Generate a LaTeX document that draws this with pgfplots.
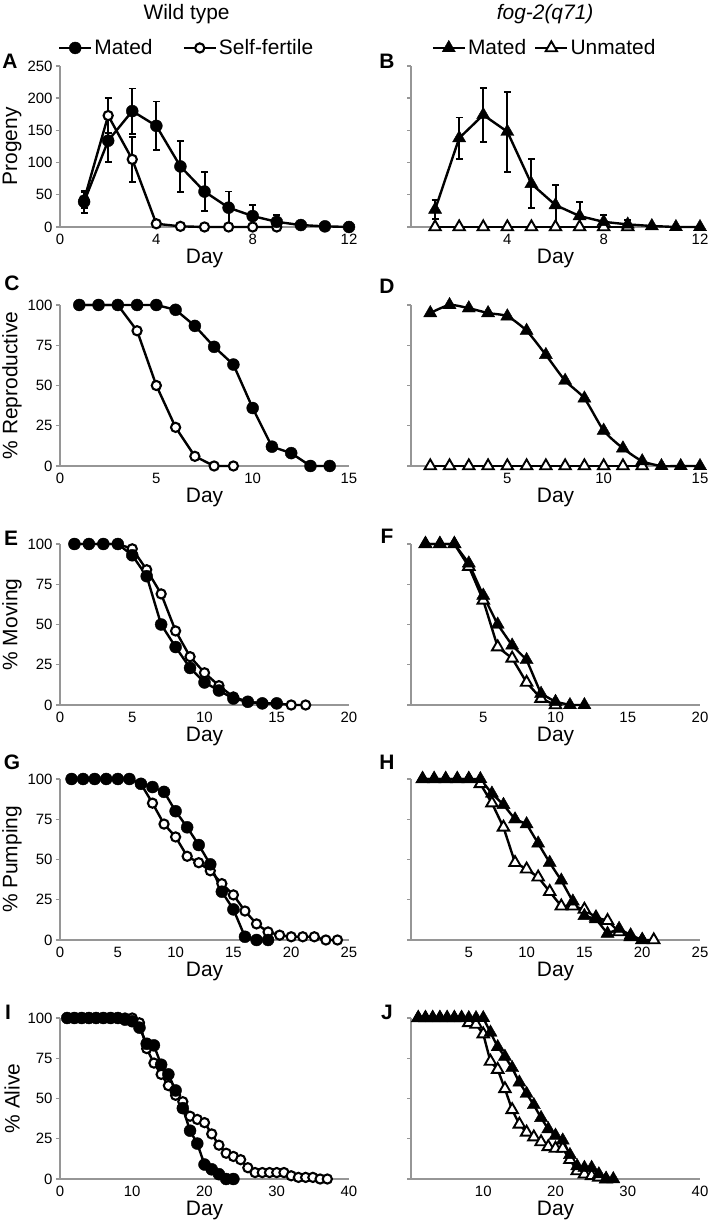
\documentclass[border=0pt]{standalone}
\usepackage{fontspec}
\setmainfont{Liberation Sans}
\usepackage{pgfplots}
\pgfplotsset{compat=1.18}
\definecolor{axgray}{RGB}{150,150,150}

\tikzset{
  matedC/.style={black, line width=2.4bp, mark=*, mark size=6bp,
    mark options={solid, fill=black, draw=black, line width=0.4bp}},
  selfC/.style={black, line width=2.4bp, mark=*, mark size=4.6bp,
    mark options={solid, fill=white, draw=black, line width=2.1bp}},
  matedT/.style={black, line width=2.4bp, mark=triangle*, mark size=7.6bp,
    mark options={solid, fill=black, draw=black, line width=0.4bp}},
  unmT/.style={black, line width=2.4bp, mark=triangle*, mark size=6.6bp,
    mark options={solid, fill=white, draw=black, line width=1.9bp}},
}

\pgfplotsset{
  panel/.style={
    scale only axis, width=289bp, height=161bp,
    anchor=south west,
    axis lines=left,
    axis line style={draw=axgray, line width=2bp, -},
    ytick style={draw=axgray, line width=1.4bp},
    xtick style={draw=none},
    tick align=outside,
    major tick length=4bp,
    ymin=0, ymax=100, ytick={0,25,50,75,100},
    clip=false,
    xlabel={Day},
    /pgf/number format/assume math mode=true,
    tick label style={font=\fontsize{15}{17}\selectfont},
    label style={font=\fontsize{21}{24}\selectfont},
    xlabel style={at={(axis description cs:0.5,0)}, anchor=north, yshift=-19bp},
    ylabel style={at={(axis description cs:-0.166,0.5)}, anchor=center},
  },
  rightp/.style={panel, yticklabels={}},
  ebars/.style={error bars/.cd, y dir=both, y explicit,
    error bar style={black, line width=2bp},
    error mark options={black, line width=1.8bp, mark size=3.5bp, rotate=90}},
  leg/.style={
    legend style={draw=none, fill=none, font=\fontsize{21}{24}\selectfont,
      inner sep=0pt, nodes={inner sep=2bp}, anchor=center},
    legend columns=-1,
    legend image code/.code={\draw[mark repeat=2,mark phase=2]
      plot coordinates {(0bp,0bp)(16bp,0bp)(32bp,0bp)};},
  },
}

\begin{document}
\begin{tikzpicture}
\useasboundingbox (0,0) rectangle (714bp,1224bp);

% ---------- A ----------
\begin{axis}[panel, at={(60bp,997bp)}, xmin=0, xmax=12, xtick={0,4,8,12},
  ymax=250, ytick={0,50,100,150,200,250}, ylabel={Progeny},
  leg, legend style={at={(axis description cs:0.438,1.112)},
    /tikz/every even column/.append style={column sep=28bp}}]
\addlegendimage{matedC}\addlegendentry{Mated}
\addlegendimage{selfC}\addlegendentry{Self-fertile}
\addplot[selfC, forget plot, ebars] table[x=x, y=y, y error=e] {
x y e
1 42 12
2 173 27
3 105 35
4 5 0
5 1 0
6 0 0
7 0 0
8 0 0
9 0 0
};
\addplot[matedC, forget plot, ebars] table[x=x, y=y, y error=e] {
x y e
1 39 17
2 134 33
3 180 35
4 157 38
5 94 40
6 55 30
7 30 25
8 17 17
9 8 10
10 3 0
11 1 0
12 0 0
};
\node[font=\fontsize{21}{24}\selectfont] at (axis description cs:0.438,1.323) {Wild type};
\end{axis}

% ---------- B ----------
\begin{axis}[rightp, at={(411bp,997bp)}, xmin=0, xmax=12, xtick={4,8,12},
  ymax=250, ytick={0,50,100,150,200,250},
  leg, legend style={at={(axis description cs:0.462,1.112)},
    /tikz/every even column/.append style={column sep=6bp}}]
\addlegendimage{matedT}\addlegendentry{Mated}
\addlegendimage{unmT}\addlegendentry{Unmated}
\addplot[unmT, forget plot] coordinates {
(1,0)(2,0)(3,0)(4,0)(5,0)(6,0)(7,0)(8,0)(9,0)};
\addplot[matedT, forget plot, ebars] table[x=x, y=y, y error=e] {
x y e
1 27 15
2 138 32
3 174 42
4 148 62
5 67 38
6 34 31
7 17 22
8 8 10
9 4 7
10 1.5 0
11 0 0
12 0 0
};
\node[font=\itshape\fontsize{21}{24}\selectfont] at (axis description cs:0.464,1.323) {fog-2(q71)};
\end{axis}

% ---------- C ----------
\begin{axis}[panel, at={(60bp,758bp)}, xmin=0, xmax=15, xtick={0,5,10,15},
  ylabel={\% Reproductive}]
\addplot[selfC] coordinates {
(1,100)(2,100)(3,100)(4,84)(5,50)(6,24)(7,6)(8,0)(9,0)};
\addplot[matedC] coordinates {
(1,100)(2,100)(3,100)(4,100)(5,100)(6,97)(7,87)(8,74)(9,63)(10,36)(11,12)(12,8)(13,0)(14,0)};
\end{axis}

% ---------- D ----------
\begin{axis}[rightp, at={(411bp,758bp)}, xmin=0, xmax=15, xtick={5,10,15}]
\addplot[unmT] coordinates {
(1,0)(2,0)(3,0)(4,0)(5,0)(6,0)(7,0)(8,0)(9,0)(10,0)(11,0)(12,0)};
\addplot[matedT, smooth, tension=0.4] coordinates {
(1,95)(2,100)(3,98)(4,95)(5,93)(6,84)(7,69)(8,53)(9,42)(10,22)(11,11)(12,3)(13,0)(14,0)(15,0)};
\end{axis}

% ---------- E ----------
\begin{axis}[panel, at={(60bp,519bp)}, xmin=0, xmax=20, xtick={0,5,10,15,20},
  ylabel={\% Moving}]
\addplot[selfC] coordinates {
(1,100)(2,100)(3,100)(4,100)(5,97)(6,84)(7,69)(8,46)(9,30)(10,20)(11,12)(12,5)(13,2)(14,1)(15,1)(16,0)(17,0)};
\addplot[matedC] coordinates {
(1,100)(2,100)(3,100)(4,100)(5,93)(6,80)(7,50)(8,36)(9,23)(10,14)(11,9)(12,4)(13,2)(14,1)(15,1)};
\end{axis}

% ---------- F ----------
\begin{axis}[rightp, at={(411bp,519bp)}, xmin=0, xmax=20, xtick={5,10,15,20}]
\addplot[unmT] coordinates {
(1,100)(2,100)(3,100)(4,86)(5,65)(6,36)(7,29)(8,14)(9,4)(10,0)};
\addplot[matedT] coordinates {
(1,100)(2,100)(3,100)(4,88)(5,68)(6,50)(7,37)(8,28)(9,7)(10,2)(11,0)(12,0)};
\end{axis}

% ---------- G ----------
\begin{axis}[panel, at={(60bp,284bp)}, xmin=0, xmax=25, xtick={0,5,10,15,20,25},
  ylabel={\% Pumping}]
\addplot[selfC] coordinates {
(1,100)(2,100)(3,100)(4,100)(5,100)(6,100)(7,97)(8,85)(9,72)(10,64)(11,52)(12,48)
(13,43)(14,35)(15,28)(16,18)(17,10)(18,5)(19,3)(20,2)(21,2)(22,2)(23,0)(24,0)};
\addplot[matedC] coordinates {
(1,100)(2,100)(3,100)(4,100)(5,100)(6,100)(7,97)(8,95)(9,92)(10,80)(11,70)(12,59)
(13,47)(14,30)(15,19)(16,2)(17,0)(18,0)};
\end{axis}

% ---------- H ----------
\begin{axis}[rightp, at={(411bp,284bp)}, xmin=0, xmax=25, xtick={5,10,15,20,25}]
\addplot[unmT] coordinates {
(1,100)(2,100)(3,100)(4,100)(5,100)(6,97)(7,85)(8,70)(9,48)(10,44)(11,39)(12,30)
(13,21)(14,21)(15,19)(16,14)(17,12)(18,5)(19,2)(20,0)(21,0)};
\addplot[matedT] coordinates {
(1,100)(2,100)(3,100)(4,100)(5,100)(6,100)(7,91)(8,84)(9,75)(10,72)(11,60)(12,48)
(13,37)(14,24)(15,15)(16,13)(17,4)(18,7)(19,3)(20,0)};
\end{axis}

% ---------- I ----------
\begin{axis}[panel, at={(60bp,45bp)}, xmin=0, xmax=40, xtick={0,10,20,30,40},
  ylabel={\% Alive}]
\addplot[selfC] coordinates {
(1,100)(2,100)(3,100)(4,100)(5,100)(6,100)(7,100)(8,100)(9,100)(10,100)(11,97)
(12,81)(13,72)(14,65)(15,58)(16,52)(17,48)(18,39)(19,37)(20,35)(21,28)(22,21)
(23,16)(24,14)(25,12)(26,7)(27,4)(28,4)(29,4)(30,4)(31,4)(32,2)(33,1)(34,1)
(35,1)(36,0)(37,0)};
\addplot[matedC] coordinates {
(1,100)(2,100)(3,100)(4,100)(5,100)(6,100)(7,100)(8,100)(9,99)(10,98)(11,94)
(12,84)(13,83)(14,71)(15,65)(16,55)(17,44)(18,30)(19,22)(20,9)(21,6)(22,3)
(23,0)(24,0)};
\end{axis}

% ---------- J ----------
\begin{axis}[rightp, at={(411bp,45bp)}, xmin=0, xmax=40, xtick={10,20,30,40}]
\addplot[unmT] coordinates {
(1,100)(2,100)(3,100)(4,100)(5,100)(6,100)(7,100)(8,97)(9,96)(10,90)(11,73)
(12,68)(13,56)(14,43)(15,34)(16,29)(17,26)(18,23)(19,20)(20,19)(21,19)(22,12)
(23,5)(24,3)(25,2)(26,1)(27,0)};
\addplot[matedT] coordinates {
(1,100)(2,100)(3,100)(4,100)(5,100)(6,100)(7,100)(8,100)(9,100)(10,100)(11,91)
(12,82)(13,76)(14,69)(15,60)(16,53)(17,46)(18,38)(19,31)(20,27)(21,24)(22,15)
(23,8)(24,7)(25,7)(26,3)(27,0)(28,0)};
\end{axis}

% panel letters
\begin{scope}[font=\bfseries\fontsize{21}{24}\selectfont]
\node at (10bp,1163bp) {A};
\node at (387bp,1163bp) {B};
\node at (12bp,941bp) {C};
\node at (387bp,938bp) {D};
\node at (11bp,686bp) {E};
\node at (387bp,688bp) {F};
\node at (12bp,462bp) {G};
\node at (387bp,462bp) {H};
\node at (8bp,212bp) {I};
\node at (387bp,212bp) {J};
\end{scope}
\end{tikzpicture}
\end{document}
